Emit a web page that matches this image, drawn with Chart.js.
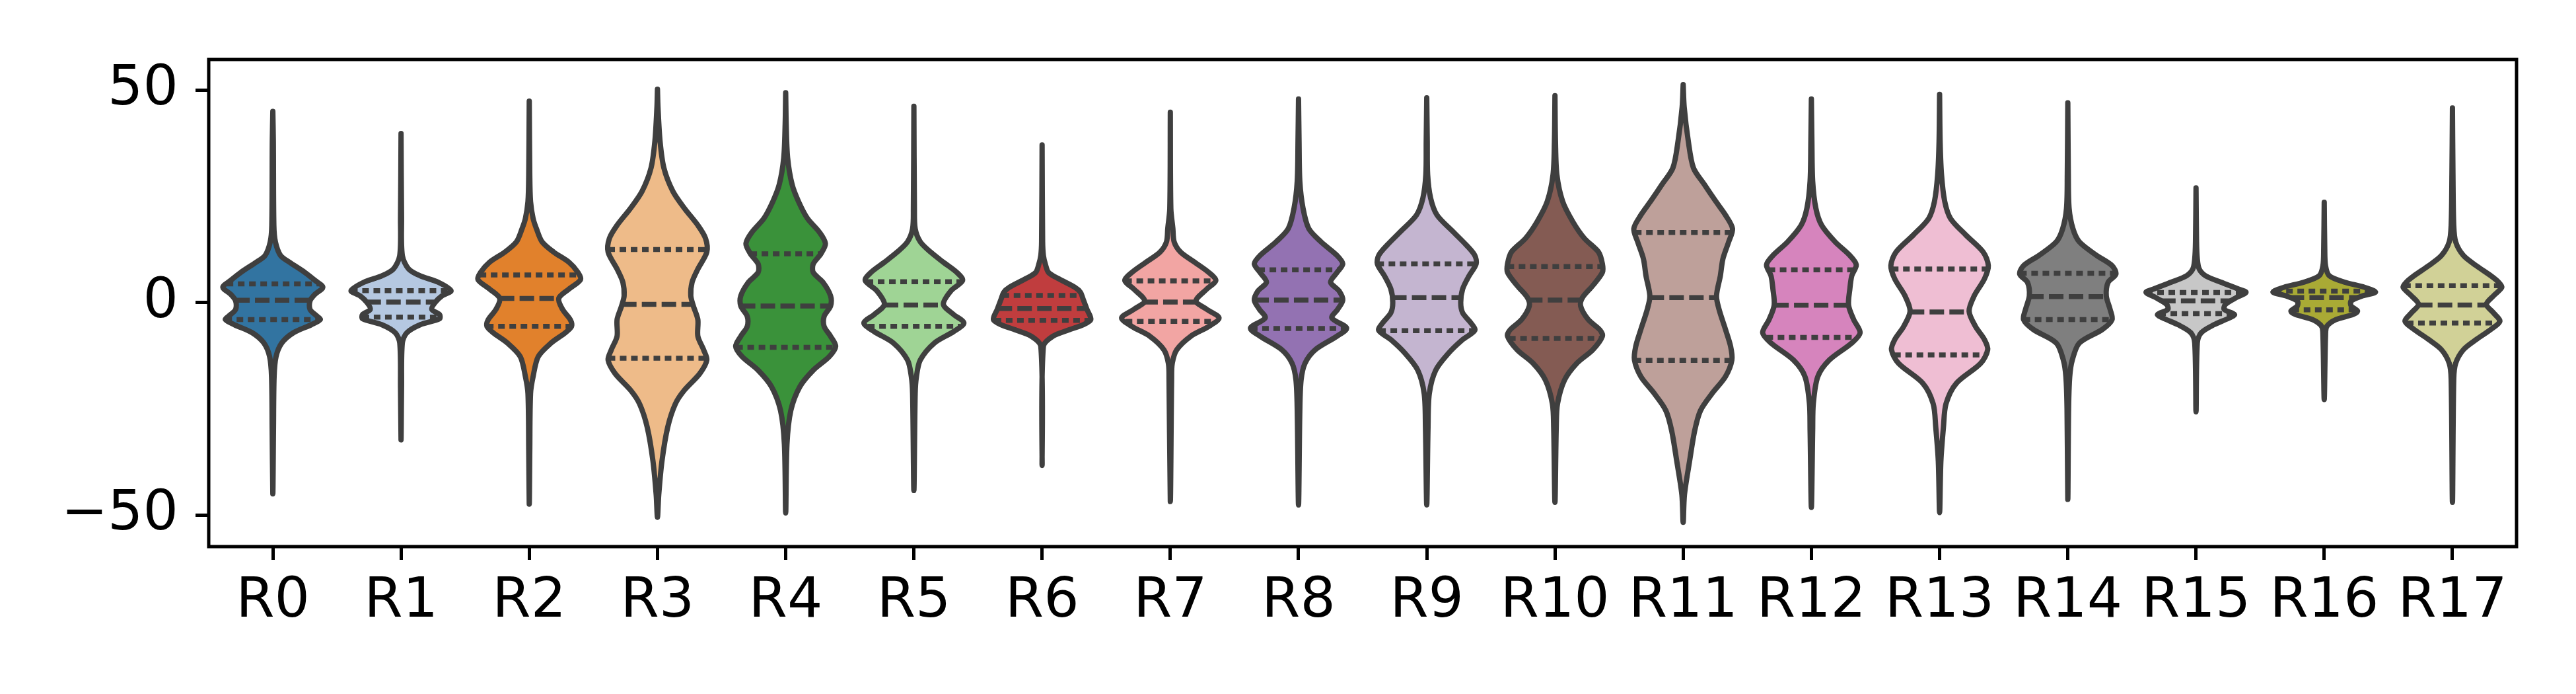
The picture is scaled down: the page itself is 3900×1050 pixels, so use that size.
<!DOCTYPE html>
<html>
<head>
<meta charset="utf-8">
<script src="https://cdn.jsdelivr.net/npm/chart.js@4.4.1/dist/chart.umd.min.js"></script>
<style>
  html, body { margin: 0; padding: 0; background: #ffffff; }
  canvas { display: block; }
</style>
</head>
<body>
<canvas id="violin-chart" width="3900" height="1050"></canvas>
<script>
const categories = ['R0', 'R1', 'R2', 'R3', 'R4', 'R5', 'R6', 'R7', 'R8', 'R9',
  'R10', 'R11', 'R12', 'R13', 'R14', 'R15', 'R16', 'R17'];

// tab20, seaborn desaturates these a bit
const baseColors = ['#1f77b4', '#aec7e8', '#ff7f0e', '#ffbb78', '#2ca02c', '#98df8a',
  '#d62728', '#ff9896', '#9467bd', '#c5b0d5', '#8c564b', '#c49c94',
  '#e377c2', '#f7b6d2', '#7f7f7f', '#c7c7c7', '#bcbd22', '#dbdb8d'];

const yTicks = [-50, 0, 50];

const upperQuartiles = [4.4, 2.8, 6.5, 12.5, 11.5, 4.9, 1.7, 5.1, 7.7, 9.1, 8.5, 16.5, 7.7, 7.9, 6.9, 2.4, 2.7, 4.0];
const medians = [0.55, 0.15, 1.0, -0.4, -0.8, -0.55, -1.4, 0.15, 0.6, 1.2, 0.6, 1.2, -0.6, -2.2, 1.4, 0.4, 1.2, -0.55];
const lowerQuartiles = [-4.0, -3.4, -5.6, -13.1, -10.5, -5.6, -4.2, -4.4, -6.1, -6.6, -8.4, -13.6, -8.2, -12.3, -4.0, -2.6, -1.7, -4.8];

// density outline of each violin: [value, half width in category units], top to bottom
const profiles = [
  [[45.0,0],[38,0.004],[18.2,0.008],[14.3,0.02],[11.1,0.06],[9.5,0.13],[7.1,0.25],[5.2,0.33],[3.6,0.39],[2.0,0.33],[0.4,0.29],[-1.6,0.29],[-3.2,0.345],[-4.0,0.37],[-5.2,0.30],[-7.1,0.16],[-9.5,0.07],[-12.7,0.025],[-17.4,0.01],[-30,0.005],[-45.0,0]],
  [[39.8,0],[20,0.004],[11.1,0.01],[7.9,0.06],[6.3,0.15],[4.8,0.29],[2.8,0.39],[1.6,0.32],[0,0.265],[-1.6,0.24],[-2.8,0.30],[-3.8,0.30],[-5.2,0.15],[-7.1,0.045],[-9.5,0.01],[-20,0.004],[-32.3,0]],
  [[47.4,0],[30.1,0.004],[23.8,0.01],[19.8,0.03],[17.4,0.056],[14.3,0.10],[11.9,0.19],[9.5,0.31],[7.1,0.38],[5.4,0.40],[3.2,0.31],[1.0,0.23],[-1.6,0.26],[-4.0,0.32],[-5.6,0.33],[-7.1,0.28],[-9.5,0.17],[-12.7,0.07],[-17.4,0.03],[-21.4,0.01],[-35,0.004],[-47.4,0]],
  [[50.2,0],[46,0.004],[38,0.02],[31.7,0.05],[26.2,0.12],[22.2,0.21],[18.2,0.315],[15.1,0.375],[11.9,0.385],[7.9,0.315],[4.8,0.27],[1.6,0.26],[-0.8,0.28],[-4.0,0.315],[-7.9,0.315],[-11.1,0.36],[-13.5,0.385],[-16.7,0.33],[-20.6,0.21],[-23.8,0.14],[-29.3,0.08],[-37.3,0.035],[-45.2,0.01],[-50.5,0]],
  [[49.4,0],[42,0.004],[34.1,0.015],[27.8,0.05],[23.8,0.10],[19.8,0.17],[16.7,0.26],[13.9,0.31],[11.5,0.275],[9.1,0.215],[7.1,0.215],[4.8,0.29],[1.6,0.35],[-0.8,0.35],[-3.2,0.30],[-5.6,0.30],[-7.9,0.35],[-10.3,0.39],[-12.7,0.34],[-15.9,0.215],[-19.8,0.11],[-25.4,0.04],[-33.3,0.01],[-49.5,0]],
  [[46.2,0],[22.2,0.004],[17.4,0.01],[14.3,0.05],[11.9,0.13],[9.5,0.23],[7.1,0.335],[5.2,0.38],[2.8,0.29],[-0.4,0.23],[-2.8,0.31],[-4.8,0.39],[-6.8,0.31],[-9.5,0.16],[-13.5,0.05],[-17.4,0.02],[-21.4,0.01],[-44.2,0]],
  [[37.1,0],[14.3,0.004],[11.1,0.01],[9.1,0.025],[7.1,0.05],[5.6,0.13],[3.6,0.255],[2.4,0.30],[0.8,0.32],[-1.6,0.35],[-4.0,0.38],[-5.2,0.32],[-6.4,0.21],[-7.9,0.085],[-10.3,0.01],[-38.3,0]],
  [[44.8,0],[22.2,0.004],[17.4,0.02],[14.3,0.03],[11.9,0.08],[9.5,0.19],[7.1,0.30],[5.2,0.355],[3.2,0.285],[0.4,0.20],[-1.6,0.285],[-3.6,0.38],[-5.6,0.30],[-7.9,0.16],[-11.1,0.05],[-14.3,0.015],[-18,0.01],[-46.8,0]],
  [[47.9,0],[38,0.004],[28.6,0.01],[22.2,0.035],[17.4,0.08],[14.3,0.175],[11.1,0.30],[9.1,0.345],[7.1,0.30],[4.8,0.25],[2.8,0.315],[0.6,0.345],[-1.6,0.305],[-3.6,0.26],[-6.0,0.375],[-7.9,0.30],[-11.1,0.13],[-14.3,0.05],[-18.2,0.02],[-25.4,0.01],[-47.6,0]],
  [[48.2,0],[38,0.004],[30.1,0.007],[24.6,0.03],[20.6,0.08],[16.7,0.205],[13.5,0.31],[11.1,0.375],[9.1,0.385],[6.3,0.33],[3.2,0.28],[0,0.265],[-2.4,0.28],[-4.8,0.345],[-6.5,0.375],[-8.7,0.28],[-11.9,0.17],[-15.9,0.07],[-21.4,0.02],[-29.3,0.01],[-47.6,0]],
  [[48.7,0],[38,0.004],[30.1,0.015],[23.8,0.06],[19.0,0.14],[15.1,0.23],[11.9,0.34],[9.1,0.37],[7.1,0.37],[4.0,0.295],[1.2,0.215],[-0.8,0.20],[-4.0,0.26],[-6.4,0.35],[-7.9,0.37],[-11.1,0.295],[-14.3,0.17],[-18.2,0.075],[-23.8,0.02],[-29.3,0.01],[-47.0,0]],
  [[51.3,0],[46,0.008],[38,0.04],[31.7,0.08],[27.8,0.165],[23.8,0.255],[20.6,0.33],[17.4,0.385],[14.3,0.355],[10.3,0.31],[6.3,0.29],[1.6,0.26],[-1.6,0.28],[-6.3,0.33],[-10.3,0.37],[-13.5,0.38],[-17.4,0.33],[-21.4,0.225],[-25.4,0.135],[-30.1,0.09],[-37.3,0.05],[-45.2,0.01],[-51.7,0]],
  [[47.9,0],[38,0.004],[28.6,0.01],[22.2,0.035],[18.2,0.08],[14.3,0.185],[11.1,0.30],[8.9,0.35],[6.3,0.315],[3.2,0.30],[-0.6,0.29],[-4.0,0.33],[-7.1,0.38],[-9.5,0.315],[-13.5,0.14],[-17.4,0.05],[-23.8,0.015],[-30,0.01],[-48.2,0]],
  [[49.0,0],[38,0.004],[30.1,0.015],[23.8,0.04],[19.8,0.085],[15.9,0.205],[11.9,0.34],[8.7,0.38],[5.6,0.35],[1.6,0.27],[-2.0,0.23],[-5.6,0.28],[-8.7,0.35],[-11.1,0.375],[-14.3,0.32],[-19.0,0.13],[-23.8,0.05],[-29.3,0.03],[-37.3,0.01],[-49.4,0]],
  [[47.0,0],[30.1,0.004],[22.2,0.01],[17.4,0.04],[14.3,0.09],[11.1,0.225],[8.7,0.345],[6.7,0.375],[4.8,0.315],[1.6,0.30],[-1.6,0.33],[-4.0,0.345],[-6.3,0.27],[-9.5,0.09],[-13.5,0.035],[-17.4,0.015],[-25,0.006],[-46.3,0]],
  [[27.0,0],[14.3,0.004],[10.3,0.01],[7.9,0.025],[6.3,0.075],[4.8,0.195],[3.2,0.33],[2.4,0.39],[1.2,0.315],[-0.4,0.23],[-1.6,0.22],[-2.8,0.30],[-3.6,0.26],[-5.2,0.14],[-7.1,0.04],[-9.5,0.01],[-25.7,0]],
  [[23.6,0],[12.7,0.004],[8.7,0.01],[6.3,0.04],[4.8,0.16],[3.6,0.315],[2.5,0.40],[1.6,0.30],[0.4,0.21],[-0.8,0.21],[-2.0,0.26],[-2.8,0.225],[-4.0,0.09],[-5.6,0.02],[-7.9,0.01],[-22.8,0]],
  [[45.8,0],[30.1,0.004],[18.2,0.01],[14.3,0.025],[11.1,0.085],[8.7,0.185],[6.3,0.30],[4.8,0.36],[3.6,0.385],[1.6,0.32],[-0.4,0.265],[-2.4,0.32],[-4.4,0.37],[-6.3,0.30],[-8.7,0.185],[-11.1,0.085],[-14.3,0.025],[-18,0.01],[-47.0,0]]
];

const lineColor = '#3f3f3f';

function desaturate(hex, prop) {
  let r = parseInt(hex.slice(1, 3), 16) / 255;
  let g = parseInt(hex.slice(3, 5), 16) / 255;
  let b = parseInt(hex.slice(5, 7), 16) / 255;
  const max = Math.max(r, g, b), min = Math.min(r, g, b);
  const l = (max + min) / 2;
  let h = 0, s = 0;
  if (max !== min) {
    const d = max - min;
    s = l > 0.5 ? d / (2 - max - min) : d / (max + min);
    if (max === r) h = ((g - b) / d + (g < b ? 6 : 0)) / 6;
    else if (max === g) h = ((b - r) / d + 2) / 6;
    else h = ((r - g) / d + 4) / 6;
  }
  s *= prop;
  const hue = (p, q, t) => {
    if (t < 0) t += 1;
    if (t > 1) t -= 1;
    if (t < 1 / 6) return p + (q - p) * 6 * t;
    if (t < 1 / 2) return q;
    if (t < 2 / 3) return p + (q - p) * (2 / 3 - t) * 6;
    return p;
  };
  if (s === 0) { r = g = b = l; } else {
    const q = l < 0.5 ? l * (1 + s) : l + s - l * s;
    const p = 2 * l - q;
    r = hue(p, q, h + 1 / 3);
    g = hue(p, q, h);
    b = hue(p, q, h - 1 / 3);
  }
  const toHex = v => Math.round(v * 255).toString(16).padStart(2, '0');
  return '#' + toHex(r) + toHex(g) + toHex(b);
}

// half width of a violin at a given value
function widthAt(profile, v) {
  for (let k = 0; k < profile.length - 1; k++) {
    const [v0, w0] = profile[k];
    const [v1, w1] = profile[k + 1];
    if (v <= v0 && v >= v1) return w0 + (w1 - w0) * (v0 - v) / (v0 - v1);
  }
  return 0;
}

const datasets = [];

profiles.forEach((profile, i) => {
  const right = profile.map(([v, w]) => ({ x: i + w, y: v }));
  const left = profile.slice(1, -1).reverse().map(([v, w]) => ({ x: i - w, y: v }));
  const pts = right.concat(left, [right[0]]);
  datasets.push({
    data: pts,
    showLine: true,
    fill: 'shape',
    backgroundColor: desaturate(baseColors[i], 0.75),
    borderColor: lineColor,
    borderWidth: 8,
    borderJoinStyle: 'round',
    borderCapStyle: 'round',
    tension: 0.3,
    pointRadius: 0,
    order: 2
  });
});

function quartileLine(i, v, dash) {
  const w = widthAt(profiles[i], v);
  return {
    data: [{ x: i - w, y: v }, { x: i + w, y: v }],
    showLine: true,
    fill: false,
    borderColor: lineColor,
    borderWidth: 7.5,
    borderDash: dash,
    borderCapStyle: 'butt',
    pointRadius: 0,
    order: 1
  };
}

categories.forEach((c, i) => {
  datasets.push(quartileLine(i, upperQuartiles[i], [10, 7]));
  datasets.push(quartileLine(i, medians[i], [22, 8]));
  datasets.push(quartileLine(i, lowerQuartiles[i], [10, 7]));
});

const frame = {
  id: 'frame',
  afterDatasetsDraw(chart) {
    const { ctx, chartArea: a } = chart;
    ctx.save();
    ctx.strokeStyle = '#000000';
    ctx.lineWidth = 5;
    ctx.strokeRect(a.left, a.top, a.right - a.left, a.bottom - a.top);
    ctx.restore();
  }
};

const tickFont = { family: "'DejaVu Sans', sans-serif", size: 84 };

new Chart(document.getElementById('violin-chart').getContext('2d'), {
  type: 'scatter',
  data: { datasets },
  options: {
    responsive: false,
    animation: false,
    devicePixelRatio: 1,
    layout: { padding: { top: 90, right: 90, left: 0, bottom: 0 } },
    plugins: { legend: { display: false }, tooltip: { enabled: false } },
    scales: {
      x: {
        type: 'linear',
        min: -0.5,
        max: 17.5,
        afterBuildTicks: axis => { axis.ticks = categories.map((c, i) => ({ value: i })); },
        afterFit: axis => { axis.height = 223; },
        ticks: {
          autoSkip: false,
          maxRotation: 0,
          padding: 14,
          color: '#000000',
          font: tickFont,
          callback: v => categories[v]
        },
        grid: { drawOnChartArea: false, tickLength: 20, tickWidth: 5, tickColor: '#000000' },
        border: { display: false }
      },
      y: {
        min: -57.4,
        max: 57.2,
        afterBuildTicks: axis => { axis.ticks = yTicks.map(v => ({ value: v })); },
        afterFit: axis => { axis.width = 316; },
        ticks: {
          padding: 26,
          color: '#000000',
          font: tickFont,
          callback: v => (v < 0 ? '\u2212' + Math.abs(v) : String(v))
        },
        grid: { drawOnChartArea: false, tickLength: 20, tickWidth: 5, tickColor: '#000000' },
        border: { display: false }
      }
    }
  },
  plugins: [frame]
});
</script>
</body>
</html>
